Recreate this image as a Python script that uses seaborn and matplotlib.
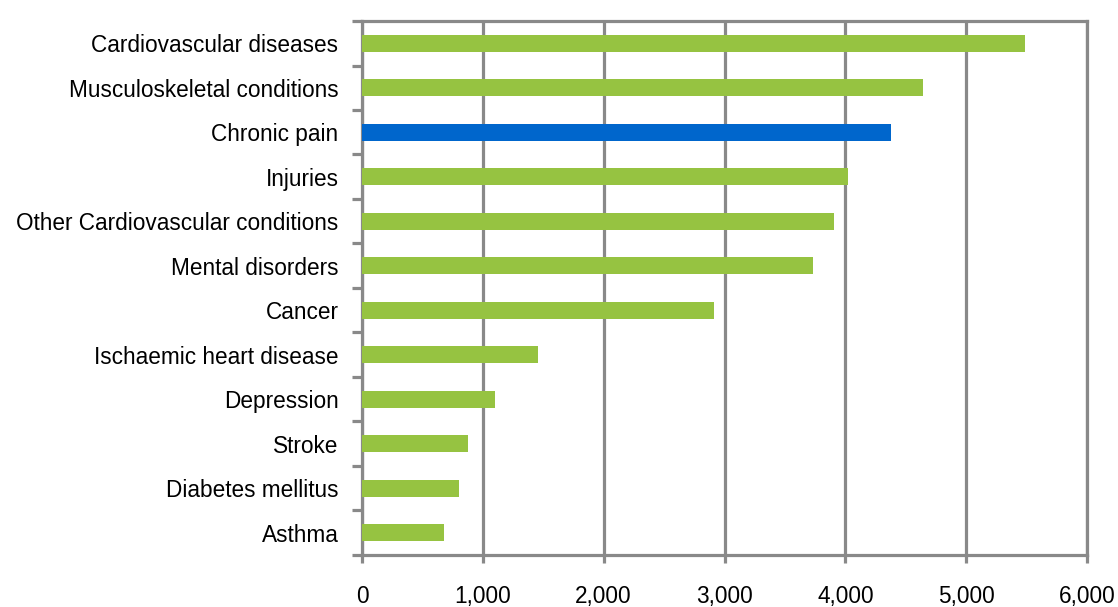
import matplotlib
matplotlib.use("Agg")
import matplotlib.pyplot as plt
import seaborn as sns
import pandas as pd
import numpy as np

categories = [
    "Cardiovascular diseases",
    "Musculoskeletal conditions",
    "Chronic pain",
    "Injuries",
    "Other Cardiovascular conditions",
    "Mental disorders",
    "Cancer",
    "Ischaemic heart disease",
    "Depression",
    "Stroke",
    "Diabetes mellitus",
    "Asthma",
]
values = [5490, 4640, 4380, 4020, 3910, 3730, 2915, 1460, 1100, 880, 805, 675]
highlight = "Chronic pain"

x_ticks = [0, 1000, 2000, 3000, 4000, 5000, 6000]
x_tick_labels = ["0", "1,000", "2,000", "3,000", "4,000", "5,000", "6,000"]

GREEN = "#96C341"
BLUE = "#0066CC"
GREY = "#898989"

sns.set_style("white")
plt.rcParams["font.family"] = ["Liberation Sans", "DejaVu Sans"]

df = pd.DataFrame({"condition": categories, "dalys": values})
palette = {c: (BLUE if c == highlight else GREEN) for c in categories}

fig = plt.figure(figsize=(11.18, 6.07), dpi=100)
ax = fig.add_axes([0.3238, 0.0857, 0.6485, 0.8797])

sns.barplot(data=df, x="dalys", y="condition", hue="condition", palette=palette,
            order=categories, hue_order=categories, orient="h", width=0.38,
            legend=False, saturation=1, linewidth=0, ax=ax, zorder=3)

ax.set_xlim(0, 6000)
ax.set_ylim(len(categories) - 0.5, -0.5)
ax.set_xlabel("")
ax.set_ylabel("")

# vertical gridlines
ax.set_xticks(x_ticks)
ax.set_xticklabels(x_tick_labels, fontsize=16.3, color="black")
ax.xaxis.grid(True, color=GREY, linewidth=2.3)
ax.yaxis.grid(False)
ax.set_axisbelow(True)

# category boundaries carry the y tick marks
ax.set_yticks(np.arange(len(categories)))
ax.set_yticklabels(categories, fontsize=16.3, color="black")
ax.set_yticks(np.arange(len(categories) + 1) - 0.5, minor=True)
ax.tick_params(axis="y", which="major", length=0, pad=17)
ax.tick_params(axis="y", which="minor", length=7.5, width=2.3, color=GREY, direction="out", left=True)
ax.tick_params(axis="x", which="major", length=5.5, width=2.3, color=GREY, direction="out", bottom=True, pad=16)

for side in ["left", "right", "top", "bottom"]:
    ax.spines[side].set_visible(True)
    ax.spines[side].set_color(GREY)
    ax.spines[side].set_linewidth(2.3)

fig.savefig("out.png", dpi=100)
